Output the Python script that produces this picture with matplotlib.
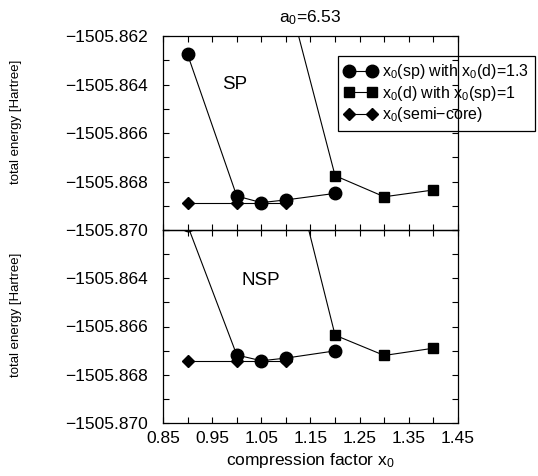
import matplotlib

matplotlib.use('Agg')
import matplotlib.pyplot as plt
from matplotlib.ticker import MultipleLocator

plt.rcParams['font.family'] = ['Liberation Sans', 'DejaVu Sans']
plt.rcParams['mathtext.fontset'] = 'custom'
plt.rcParams['mathtext.rm'] = 'Liberation Sans'
plt.rcParams['mathtext.it'] = 'Liberation Sans'

# compression factors
x_sp = [0.9, 1.0, 1.05, 1.1, 1.2]
x_d = [1.1, 1.2, 1.3, 1.4]
x_core = [0.9, 1.0, 1.1]

# spin polarized (SP) energies [Hartree]
sp_circle = [-1505.86276, -1505.86860, -1505.86887, -1505.86876, -1505.86849]
sp_square = [-1505.86000, -1505.86776, -1505.86863, -1505.86835]
sp_diamond = [-1505.86887, -1505.86887, -1505.86887]

# non spin polarized (NSP) energies [Hartree]
nsp_circle = [-1505.86181, -1505.86718, -1505.86742, -1505.86731, -1505.86701]
nsp_square = [-1505.85822, -1505.86636, -1505.86720, -1505.86690]
nsp_diamond = [-1505.86742, -1505.86742, -1505.86742]

labels = ['$\\mathregular{x_0}$(sp) with $\\mathregular{x_0}$(d)=1.3',
          '$\\mathregular{x_0}$(d) with $\\mathregular{x_0}$(sp)=1',
          '$\\mathregular{x_0}$(semi\u2212core)']

W, H = 538, 476
fig = plt.figure(figsize=(W / 100, H / 100), dpi=100)
left, right = 163 / W, 458 / W
ax_top = fig.add_axes([left, 1 - 230 / H, right - left, 194 / H])
ax_bot = fig.add_axes([left, 1 - 423 / H, right - left, 193 / H], sharex=ax_top)

line_kw = dict(color='black', lw=0.8)


def fmt(v):
    return ('%.3f' % v).replace('-', '\u2212')


def draw_panel(ax, circ, sq, dia):
    ax.patch.set_alpha(0)
    h3, = ax.plot(x_core, dia, marker='D', ms=6.5, mfc='black', mec='black', **line_kw)
    h1, = ax.plot(x_sp, circ, marker='o', ms=9, mfc='black', mec='black', **line_kw)
    h2, = ax.plot(x_d, sq, marker='s', ms=7.5, mfc='black', mec='black', **line_kw)
    ax.set_ylim(-1505.870, -1505.862)
    ax.set_xlim(0.85, 1.45)
    ax.yaxis.set_minor_locator(MultipleLocator(0.001))
    ax.xaxis.set_minor_locator(MultipleLocator(0.05))
    ax.tick_params(which='both', direction='in', top=True, right=True,
                   length=4.5, width=0.8, labelsize=12.5, pad=11)
    for s in ax.spines.values():
        s.set_linewidth(0.9)
    ax.set_ylabel('total energy [Hartree]', fontsize=9.5)
    ax.yaxis.set_label_coords(-0.478, 0.56)
    return h1, h2, h3


handles = draw_panel(ax_top, sp_circle, sp_square, sp_diamond)
draw_panel(ax_bot, nsp_circle, nsp_square, nsp_diamond)

top_ticks = [-1505.870, -1505.868, -1505.866, -1505.864, -1505.862]
ax_top.set_yticks(top_ticks)
ax_top.set_yticklabels([fmt(v) for v in top_ticks])
bot_ticks = top_ticks[:-1]
ax_bot.set_yticks(bot_ticks)
ax_bot.set_yticklabels([fmt(v) for v in bot_ticks])

x_ticks = [0.85, 0.95, 1.05, 1.15, 1.25, 1.35, 1.45]
ax_bot.set_xticks(x_ticks)
ax_bot.set_xticklabels(['%.2f' % v for v in x_ticks])
ax_bot.tick_params(axis='x', pad=6)
ax_top.tick_params(axis='x', labelbottom=False)
ax_bot.set_xlabel('compression factor $\\mathregular{x_0}$', fontsize=12.5, labelpad=3)

ax_top.set_title('$\\mathregular{a_0}$=6.53', fontsize=12.5, pad=10)
ax_top.text(0.97, -1505.8640, 'SP', fontsize=13.5, ha='left', va='center')
ax_bot.text(1.01, -1505.8641, 'NSP', fontsize=13.5, ha='left', va='center')

# figure legend under the axes so the right spine runs across it
leg = fig.legend(handles, labels, loc='upper left',
                 bbox_to_anchor=(338 / W, 1 - 56 / H), bbox_transform=fig.transFigure,
                 borderaxespad=0, fontsize=11.5, numpoints=2, handlelength=2.0,
                 handletextpad=0.35, labelspacing=0.15, borderpad=0.4,
                 fancybox=False, framealpha=1, edgecolor='black')
leg.get_frame().set_linewidth(0.9)
leg.set_zorder(-1)

fig.savefig('out.png', dpi=100)
